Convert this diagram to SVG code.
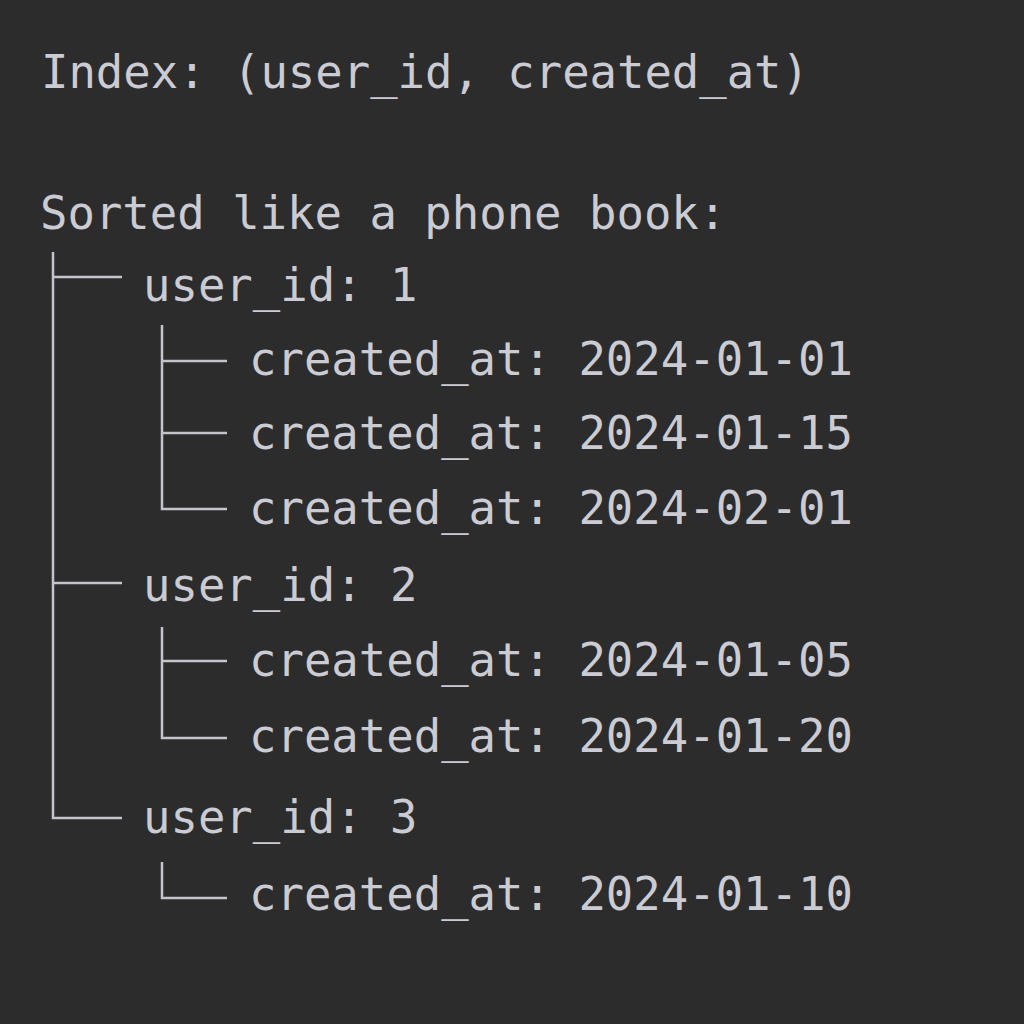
<svg xmlns="http://www.w3.org/2000/svg" width="1024" height="1024" viewBox="0 0 1024 1024">
<style>
text{font-family:"DejaVu Sans Mono","Liberation Mono",monospace;font-size:45.6px;fill:#cbcbd3}
.c{stroke:#c4c4cc;stroke-width:2.5;fill:none}
</style>
<rect width="1024" height="1024" fill="#2c2c2c"/>
<g id="title"><text x="41" y="88" textLength="768">Index: (user_id, created_at)</text></g>
<g id="subtitle"><text x="40" y="229">Sorted like a phone book:</text></g>
<g id="connectors">
<path class="c" d="M53 252V818H122M53 277H122M53 583H122"/>
<path class="c" d="M162 325V509H227M162 361H227M162 433H227"/>
<path class="c" d="M162 627V738H227M162 661H227"/>
<path class="c" d="M162 862V898H227"/>
</g>
<g id="user1"><text x="143" y="301">user_id: 1</text></g>
<g id="u1d1"><text x="249" y="375">created_at: 2024-01-01</text></g>
<g id="u1d2"><text x="249" y="449">created_at: 2024-01-15</text></g>
<g id="u1d3"><text x="249" y="524">created_at: 2024-02-01</text></g>
<g id="user2"><text x="143" y="601">user_id: 2</text></g>
<g id="u2d1"><text x="249" y="676">created_at: 2024-01-05</text></g>
<g id="u2d2"><text x="249" y="752">created_at: 2024-01-20</text></g>
<g id="user3"><text x="143" y="833">user_id: 3</text></g>
<g id="u3d1"><text x="249" y="910">created_at: 2024-01-10</text></g>
</svg>
